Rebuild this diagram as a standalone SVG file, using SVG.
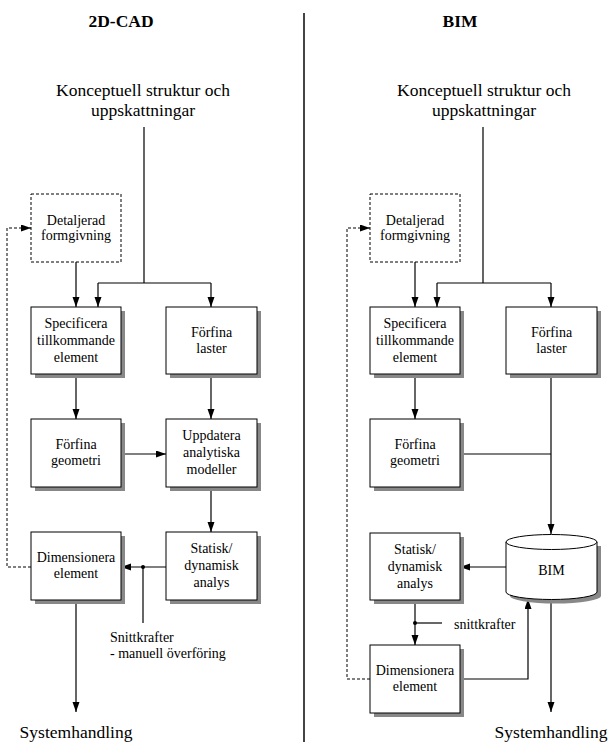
<svg xmlns="http://www.w3.org/2000/svg" width="608" height="745" viewBox="0 0 608 745">
<style>
text{font-family:"Liberation Serif","Times New Roman",serif;fill:#000}
.t{font-size:17.5px;text-anchor:middle}
.h{font-size:17.5px;font-weight:bold;text-anchor:middle}
.b{font-size:14px;text-anchor:middle}
.l{font-size:14px}
.box{fill:#fff;stroke:#000;stroke-width:1}
.sh{fill:#888;stroke:none}
.dbox{fill:#fff;stroke:#000;stroke-width:1;stroke-dasharray:3,2}
.c{fill:none;stroke:#000;stroke-width:1.2}
.ca{fill:none;stroke:#000;stroke-width:1.2;marker-end:url(#ah)}
.d{fill:none;stroke:#000;stroke-width:1;stroke-dasharray:3,2}
.da{fill:none;stroke:#000;stroke-width:1;stroke-dasharray:3,2;marker-end:url(#ah)}
</style>
<defs>
<marker id="ah" markerUnits="userSpaceOnUse" markerWidth="11" markerHeight="8" refX="10" refY="3.5" orient="auto">
<path d="M0,0 L10,3.5 L0,7 z" fill="#000"/>
</marker>
</defs>
<line x1="304" y1="13" x2="304" y2="742" stroke="#444" stroke-width="2"/>
<text class="h" x="121" y="27">2D-CAD</text>
<text class="h" x="460" y="27">BIM</text>
<g id="left-concept"><text class="t" x="143" y="96">Konceptuell struktur och</text><text class="t" x="143" y="115.5">uppskattningar</text></g>
<g id="right-concept"><text class="t" x="484" y="96">Konceptuell struktur och</text><text class="t" x="484" y="115.5">uppskattningar</text></g>
<g id="connectors">
<path class="c" d="M144,127 V283 M98,283 H211"/>
<path class="ca" d="M98,283 V307"/>
<path class="ca" d="M211,283 V307"/>
<path class="ca" d="M76,262 V307"/>
<path class="ca" d="M76,374 V419"/>
<path class="ca" d="M211,374 V419"/>
<path class="ca" d="M121,454 H166"/>
<path class="ca" d="M211,487 V532"/>
<path class="ca" d="M166,567 H121"/>
<path class="c" d="M143,567 V623"/>
<circle cx="143" cy="567" r="2" fill="#000"/>
<path class="ca" d="M76,600 V712"/>
<path class="da" d="M31,567 H7 V228 H31"/>
<path class="c" d="M483,127 V283 M437,283 H551"/>
<path class="ca" d="M437,283 V307"/>
<path class="ca" d="M551,283 V307"/>
<path class="ca" d="M415,262 V307"/>
<path class="ca" d="M415,374 V419"/>
<path class="ca" d="M551,374 V534"/>
<path class="c" d="M460,454 H551"/>
<path class="ca" d="M506,567 H460"/>
<path class="ca" d="M415,600 V645"/>
<path class="c" d="M415,623 H442"/>
<circle cx="415" cy="623" r="2" fill="#000"/>
<path class="ca" d="M460,679 H528 V599"/>
<path class="ca" d="M551,600 V712"/>
<path class="da" d="M370,679 H347 V228 H370"/>
</g>
<g id="l-detaljerad"><rect class="dbox" x="31" y="194" width="90" height="68"/><text class="b" x="76" y="225">Detaljerad</text><text class="b" x="76" y="240">formgivning</text></g>
<g id="l-specificera"><rect class="sh" x="35" y="311" width="90" height="67"/><rect class="box" x="31" y="307" width="90" height="67"/><text class="b" x="76" y="328">Specificera</text><text class="b" x="76" y="345">tillkommande</text><text class="b" x="76" y="362">element</text></g>
<g id="l-laster"><rect class="sh" x="170" y="311" width="91" height="67"/><rect class="box" x="166" y="307" width="91" height="67"/><text class="b" x="211.5" y="337">Förfina</text><text class="b" x="211.5" y="353">laster</text></g>
<g id="l-geometri"><rect class="sh" x="35" y="423" width="90" height="68"/><rect class="box" x="31" y="419" width="90" height="68"/><text class="b" x="76" y="449">Förfina</text><text class="b" x="76" y="465">geometri</text></g>
<g id="l-uppdatera"><rect class="sh" x="170" y="423" width="91" height="68"/><rect class="box" x="166" y="419" width="91" height="68"/><text class="b" x="211.5" y="440">Uppdatera</text><text class="b" x="211.5" y="457">analytiska</text><text class="b" x="211.5" y="474">modeller</text></g>
<g id="l-statisk"><rect class="sh" x="170" y="536" width="91" height="68"/><rect class="box" x="166" y="532" width="91" height="68"/><text class="b" x="211.5" y="553">Statisk/</text><text class="b" x="211.5" y="570">dynamisk</text><text class="b" x="211.5" y="587">analys</text></g>
<g id="l-dimensionera"><rect class="sh" x="35" y="536" width="90" height="68"/><rect class="box" x="31" y="532" width="90" height="68"/><text class="b" x="76" y="562">Dimensionera</text><text class="b" x="76" y="578">element</text></g>
<g id="l-snitt"><text class="l" x="110" y="642">Snittkrafter</text><text class="l" x="110" y="658">- manuell överföring</text></g>
<g id="l-system"><text class="t" x="76" y="738">Systemhandling</text></g>
<g id="r-detaljerad"><rect class="dbox" x="370" y="194" width="90" height="68"/><text class="b" x="415" y="225">Detaljerad</text><text class="b" x="415" y="240">formgivning</text></g>
<g id="r-specificera"><rect class="sh" x="374" y="311" width="90" height="67"/><rect class="box" x="370" y="307" width="90" height="67"/><text class="b" x="415" y="328">Specificera</text><text class="b" x="415" y="345">tillkommande</text><text class="b" x="415" y="362">element</text></g>
<g id="r-laster"><rect class="sh" x="510" y="311" width="91" height="67"/><rect class="box" x="506" y="307" width="91" height="67"/><text class="b" x="551.5" y="337">Förfina</text><text class="b" x="551.5" y="353">laster</text></g>
<g id="r-geometri"><rect class="sh" x="374" y="423" width="90" height="68"/><rect class="box" x="370" y="419" width="90" height="68"/><text class="b" x="415" y="449">Förfina</text><text class="b" x="415" y="465">geometri</text></g>
<g id="r-statisk"><rect class="sh" x="374" y="537" width="90" height="67"/><rect class="box" x="370" y="533" width="90" height="67"/><text class="b" x="415" y="554">Statisk/</text><text class="b" x="415" y="571">dynamisk</text><text class="b" x="415" y="588">analys</text></g>
<g id="r-bim"><path class="sh" d="M510,546 V596 A45.5,7.5 0 0 0 601,596 V546 z"/><path class="box" d="M506,542 V592 A45.5,7.5 0 0 0 597,592 V542 z"/><ellipse class="box" cx="551.5" cy="542" rx="45.5" ry="7.5"/><text class="b" x="551.5" y="575">BIM</text></g>
<g id="r-snitt"><text class="l" x="454" y="629">snittkrafter</text></g>
<g id="r-dimensionera"><rect class="sh" x="374" y="649" width="90" height="68"/><rect class="box" x="370" y="645" width="90" height="68"/><text class="b" x="415" y="675">Dimensionera</text><text class="b" x="415" y="691">element</text></g>
<g id="r-system"><text class="t" x="551" y="738">Systemhandling</text></g>
</svg>
